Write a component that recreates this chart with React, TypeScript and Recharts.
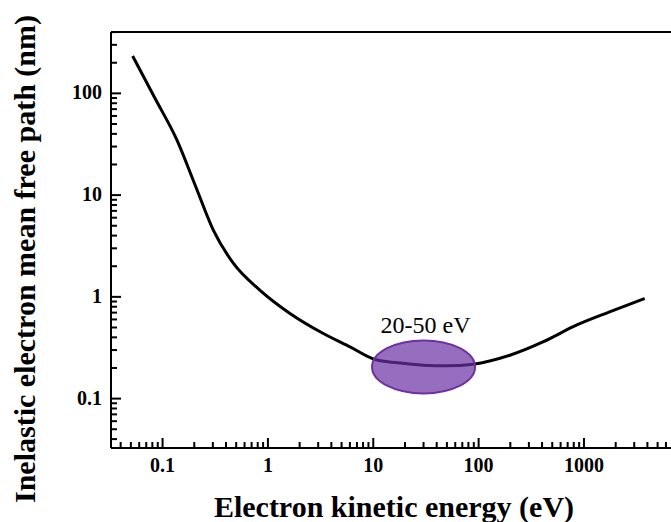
import React from 'react';
import { LineChart, Line, XAxis, YAxis, ReferenceDot, ReferenceLine } from 'recharts';

// electron kinetic energy (eV) and inelastic mean free path (nm)
const energy = [0.052, 0.0845, 0.137, 0.204, 0.304, 0.471, 0.843, 1.62, 3.36, 6.02, 10.4, 17, 29.8, 50, 88.7, 198, 408, 847, 1750, 3770];
const imfp = [233, 89.9, 34.7, 12.5, 4.5, 2.13, 1.16, 0.687, 0.436, 0.322, 0.242, 0.225, 0.213, 0.21, 0.218, 0.267, 0.361, 0.527, 0.712, 0.964];

const xDomain = [0.0324, 6700];
const yDomain = [0.0327, 401];
const xMajorTicks = [0.1, 1, 10, 100, 1000];
const yMajorTicks = [0.1, 1, 10, 100];
const xLabels = ['0.1', '1', '10', '100', '1000'];
const yLabels = ['0.1', '1', '10', '100'];

// highlighted window
const windowCenter = { energy: 30, imfp: 0.205 };
const windowLabel = '20-50 eV';

const data = energy.map((e, i) => ({ energy: e, imfp: imfp[i] }));

const logTicks = (domain: number[]) => {
  const out: number[] = [];
  for (let d = -3; d <= 4; d++) {
    for (let m = 1; m <= 9; m++) {
      const v = Number((m * Math.pow(10, d)).toPrecision(6));
      if (v >= domain[0] && v <= domain[1]) out.push(v);
    }
  }
  return out;
};

const FONT = 'Liberation Serif';

const isMajor = (v: number) => Math.abs(Math.log10(v) - Math.round(Math.log10(v))) < 1e-6;

// ticks point inward, majors longer
const XTick = (props: any) => {
  const x = Number(props.x);
  const y = Number(props.y);
  const v = props.payload.value;
  const len = isMajor(v) ? 10 : 6;
  const idx = xMajorTicks.findIndex((t) => Math.abs(t - v) / t < 1e-6);
  return (
    <g>
      <rect x={x - 1} y={y - len} width={2} height={len} fill="#000" />
      {idx >= 0 && (
        <text x={x} y={y + 24} textAnchor="middle" fontFamily={FONT} fontWeight="bold" fontSize={20} fill="#000">
          {xLabels[idx]}
        </text>
      )}
    </g>
  );
};

const YTick = (props: any) => {
  const x = Number(props.x);
  const y = Number(props.y);
  const v = props.payload.value;
  const len = isMajor(v) ? 10 : 6;
  const idx = yMajorTicks.findIndex((t) => Math.abs(t - v) / t < 1e-6);
  return (
    <g>
      <rect x={x} y={y - 1} width={len} height={2} fill="#000" />
      {idx >= 0 && (
        <text x={x - 9} y={y + 6} textAnchor="end" fontFamily={FONT} fontWeight="bold" fontSize={20} fill="#000">
          {yLabels[idx]}
        </text>
      )}
    </g>
  );
};

const WindowShape = (props: any) => {
  const { cx, cy } = props;
  return (
    <g>
      <ellipse cx={cx} cy={cy} rx={51.5} ry={26.5} fill="#6A30A4" fillOpacity={0.7} stroke="#7030A0" strokeWidth={2} />
      <text x={cx + 2} y={cy - 34} textAnchor="middle" fontFamily={FONT} fontSize={24} fill="#000">
        {windowLabel}
      </text>
    </g>
  );
};

export default function App() {
  return (
    <div style={{ position: 'absolute', left: 0, top: 0, width: 671, height: 522, background: '#fff' }}>
      <LineChart width={671} height={522} data={data} margin={{ top: 32, right: 0, bottom: 0, left: 0 }}>
        <XAxis
          dataKey="energy"
          type="number"
          scale="log"
          domain={xDomain}
          allowDataOverflow
          ticks={logTicks(xDomain)}
          interval={0}
          tick={<XTick />}
          tickLine={false}
          tickSize={0}
          tickMargin={0}
          height={74}
          stroke="#000"
          strokeWidth={2}
          label={{
            content: () => (
              <text x={394} y={517} textAnchor="middle" fontFamily={FONT} fontWeight="bold" fontSize={30} fill="#000">
                Electron kinetic energy (eV)
              </text>
            ),
          }}
        />
        <YAxis
          dataKey="imfp"
          type="number"
          scale="log"
          domain={yDomain}
          allowDataOverflow
          ticks={logTicks(yDomain)}
          interval={0}
          tick={<YTick />}
          tickLine={false}
          tickSize={0}
          tickMargin={0}
          width={111}
          stroke="#000"
          strokeWidth={2}
          label={{
            content: () => (
              <text
                x={35}
                y={259}
                transform="rotate(-90, 35, 259)"
                textAnchor="middle"
                fontFamily={FONT}
                fontWeight="bold"
                fontSize={30}
                fill="#000"
              >
                Inelastic electron mean free path (nm)
              </text>
            ),
          }}
        />
        <ReferenceLine y={yDomain[1]} stroke="#000" strokeWidth={2} ifOverflow="visible" />
        <Line
          type="monotone"
          dataKey="imfp"
          stroke="#000"
          strokeWidth={3}
          dot={false}
          isAnimationActive={false}
        />
        <ReferenceDot x={windowCenter.energy} y={windowCenter.imfp} shape={<WindowShape />} ifOverflow="visible" />
      </LineChart>
    </div>
  );
}
